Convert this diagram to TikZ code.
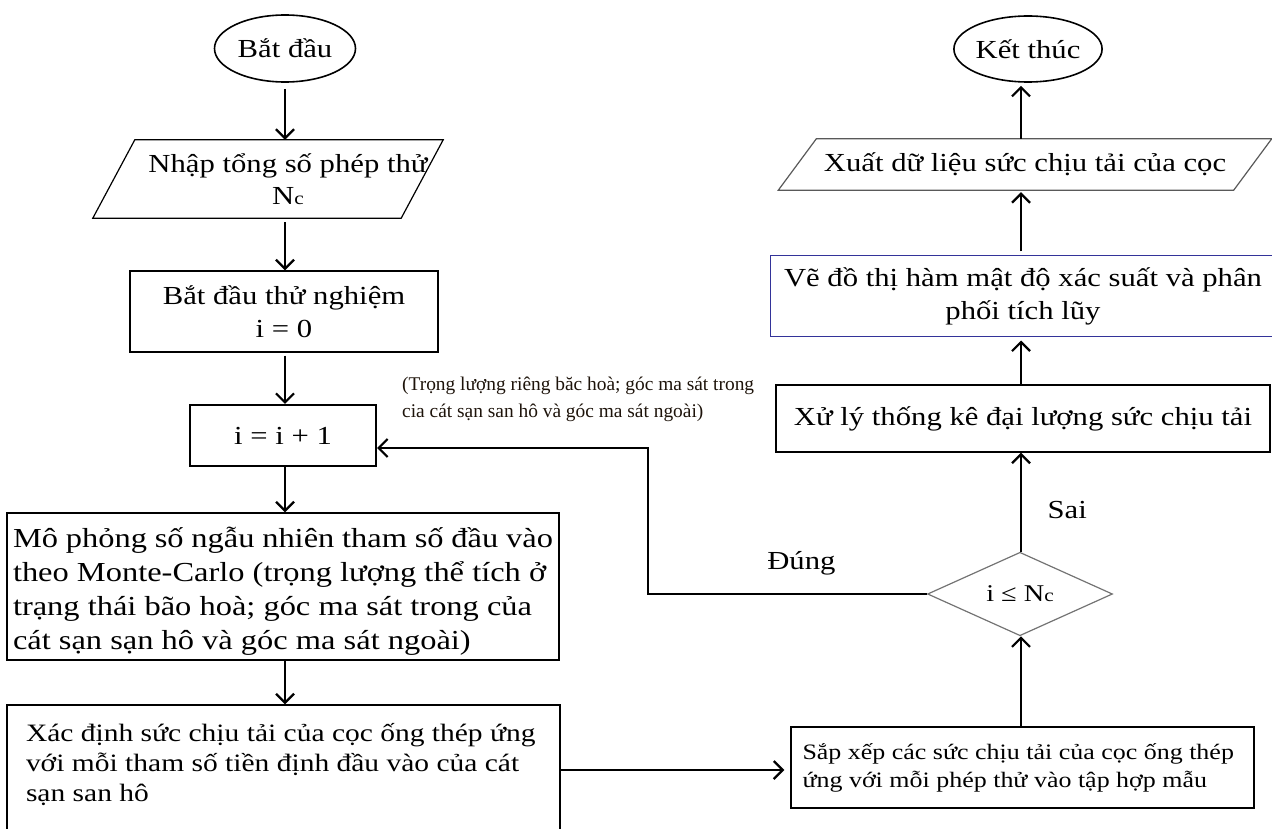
\documentclass[tikz,border=0pt]{standalone}
\usepackage{fontspec}
\setmainfont{Liberation Serif}[FakeStretch=1.18]
\newfontfamily\notefont{Liberation Serif}
\usetikzlibrary{arrows.meta,shapes.geometric}
\tikzset{
  flow/.style={line width=2.6pt,-{Straight Barb[length=9pt,width=18pt,line width=2.2pt]}},
  procbox/.style={draw,line width=1.4pt,rectangle,inner sep=0pt,align=center,
     font=\fontsize{26}{33}\selectfont},
  term/.style={draw,line width=1.6pt,ellipse,inner sep=0pt,font=\fontsize{26}{32}\selectfont},
  iobox/.style={rectangle,inner sep=0pt,align=center,font=\fontsize{26}{33}\selectfont},
  lbl/.style={font=\fontsize{26}{32}\selectfont},
}
\newcommand{\Nsub}{N{\fontsize{18}{20}\selectfont c}}
\begin{document}
\begin{tikzpicture}[x=1pt,y=-1pt]
\useasboundingbox (0,0) rectangle (1272,829);
% left column
\node[term,minimum width=141pt,minimum height=67pt] (start) at (285,48.5) {Bắt đầu};
\node[iobox,minimum width=308pt,minimum height=78pt] (inp) at (288,179) {Nhập tổng số phép thử\\[-1pt]\Nsub};
\draw[line width=1.2pt] ([xshift=1pt]inp.north west) -- ([xshift=1pt]inp.north east)
   -- ([xshift=-41pt]inp.south east) -- ([xshift=-41pt]inp.south west) -- cycle;
\node[procbox,minimum width=308pt,minimum height=81pt] (init) at (284,311.5) {Bắt đầu thử nghiệm\\i = 0};
\node[procbox,line width=2.2pt,minimum width=186pt,minimum height=61pt] (inc) at (283,435.5) {i = i + 1};
\node[procbox,minimum width=552pt,minimum height=147pt,align=left,font=\fontsize{27.5}{34}\selectfont] (sim) at (283,586.5)
  {\parbox{540pt}{\vspace*{10pt}\raggedright Mô phỏng số ngẫu nhiên tham số đầu vào\\ theo Monte-Carlo (trọng lượng thể tích ở\\ trạng thái bão hoà; góc ma sát trong của\\ cát sạn sạn hô và góc ma sát ngoài)}};
\node[procbox,minimum width=553pt,minimum height=130pt,align=left,font=\fontsize{25}{30}\selectfont] (det) at (283.5,770)
  {\parbox{515pt}{\raggedright Xác định sức chịu tải của cọc ống thép ứng\\ với mỗi tham số tiền định đầu vào của cát\\ sạn san hô\\[-14pt]\mbox{}}};
% annotation
\node[anchor=north west,align=left,inner sep=0pt,font=\notefont\fontsize{19.4}{27}\selectfont,text=black!85!brown] (note) at (402,377)
  {(Trọng lượng riêng băc hoà; góc ma sát trong\\ cia cát sạn san hô và góc ma sát ngoài)};
% right column
\node[procbox,minimum width=463pt,minimum height=81pt,font=\fontsize{22}{28}\selectfont,align=left] (sort) at (1022.5,767.5)
  {\parbox{440pt}{\raggedright Sắp xếp các sức chịu tải của cọc ống thép\\ ứng với mỗi phép thử vào tập hợp mẫu}};
\node[draw=black!55,line width=1.2pt,diamond,inner sep=0pt,minimum width=185pt,minimum height=79pt,font=\fontsize{24}{28}\selectfont] (dec) at (1020,594) {i ≤ \Nsub};
\node[procbox,minimum width=494pt,minimum height=67pt] (stat) at (1023,418.5) {Xử lý thống kê đại lượng sức chịu tải};
\node[procbox,draw=blue!50!black!80,line width=1pt,minimum width=506pt,minimum height=80pt] (plot) at (1023,296) {Vẽ đồ thị hàm mật độ xác suất và phân\\phối tích lũy};
\node[iobox,minimum width=455pt,minimum height=51pt] (out) at (1025,164.5) {Xuất dữ liệu sức chịu tải của cọc};
\draw[line width=1.2pt,black!65] ([xshift=19pt]out.north west) -- ([xshift=19pt]out.north east)
   -- ([xshift=-19pt]out.south east) -- ([xshift=-19pt]out.south west) -- cycle;
\node[term,minimum width=140pt,minimum height=66pt] (end) at (1028,49) {Kết thúc};
% connectors left
\draw[flow,shorten <=6pt] (start.south) -- (start.south |- inp.north);
\draw[flow,shorten <=4pt] (inp.south -| start.south) -- (init.north -| start.south);
\draw[flow,shorten <=3pt] (init.south -| start.south) -- (inc.north -| start.south);
\draw[flow] (inc.south -| start.south) -- (sim.north -| start.south);
\draw[flow] (sim.south -| start.south) -- (det.north -| start.south);
\draw[flow,shorten >=6pt] (det.east) -- (det.east -| sort.west);
% connectors right
\coordinate (cx) at (1021,0);
\draw[flow] (sort.north -| cx) -- (dec.south -| cx);
\draw[flow] (dec.north -| cx) -- node[lbl,right=22pt,pos=0.42] {Sai} (stat.south -| cx);
\draw[flow,shorten >=4pt] (stat.north -| cx) -- (plot.south -| cx);
\draw[flow,shorten <=4pt,shorten >=2pt] (plot.north -| cx) -- (out.south -| cx);
\draw[flow,shorten >=3pt] (out.north -| cx) -- (end.south -| cx);
% loop back
\coordinate (lp) at (648,448);
\draw[flow] (dec.west) -- (dec.west -| lp) node[lbl,pos=0.45,above=14pt] {Đúng} -- (lp) -- (lp -| inc.east);
\end{tikzpicture}
\end{document}
